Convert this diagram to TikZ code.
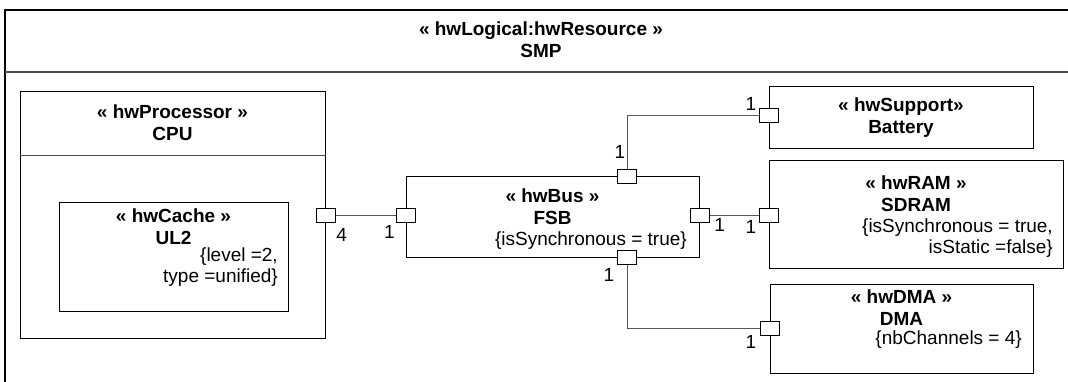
\documentclass[tikz,border=0pt]{standalone}
\usepackage{fontspec}
\setmainfont{Liberation Sans}
\usetikzlibrary{positioning}

\begin{document}
\begin{tikzpicture}[x=1pt,y=-1pt,
  every node/.style={font=\fontsize{19}{22}\selectfont},
  box/.style={draw,line width=1.2pt,inner sep=0pt,anchor=north west},
  port/.style={draw,fill=white,line width=1pt,minimum width=19pt,minimum height=14pt,inner sep=0pt},
  wire/.style={draw=black!65,line width=1pt},
  head/.style={font=\fontsize{19}{22}\selectfont\bfseries,align=center,inner sep=0pt},
  prop/.style={align=right,inner sep=0pt,anchor=east,font=\fontsize{19}{21}\selectfont},
  mult/.style={inner sep=0pt}]
\useasboundingbox (0,0) rectangle (1068,381);
\clip (0,0) rectangle (1068,381);
% enclosing SMP frame
\draw[line width=1.5pt] (5,395) -- (5,10) -- (1080,10);
\draw[black!70,line width=1.5pt] (5,72) -- (1080,72);
\node[head] (smp) at (541,40) {« hwLogical:hwResource »\\SMP};
% processor with its cache
\node[box,minimum width=305pt,minimum height=247pt] (cpu) at (20,91) {};
\draw[black!70,line width=1pt] (cpu.west |- 0,155) -- (cpu.east |- 0,155);
\node[head] (cpuname) at (172.5,123) {« hwProcessor »\\CPU};
\node[box,minimum width=229pt,minimum height=109pt] (ul2) at (59,202) {};
\node[head] (ul2name) at (173.5,227) {« hwCache »\\UL2};
\node[prop] (ul2prop) at (278,267.5) {\{level =2,\\type =unified\}};
% bus
\node[box,minimum width=293pt,minimum height=81pt] (fsb) at (406,176) {};
\node[head] (fsbname) at (552.5,206.5) {« hwBus »\\FSB};
\node[prop] (fsbprop) at (687,241) {\{isSynchronous = true\}};
% right hand side resources
\node[box,minimum width=264pt,minimum height=62pt] (battery) at (769,86) {};
\node[head] (batname) at (901,117.5) {« hwSupport»\\Battery};
\node[box,minimum width=294pt,minimum height=108pt] (sdram) at (769,160) {};
\node[head] (ramname) at (916,194) {« hwRAM »\\SDRAM};
\node[prop] (ramprop) at (1053,238.5) {\{isSynchronous = true,\\isStatic =false\}};
\node[box,minimum width=263pt,minimum height=89pt] (dma) at (770,284) {};
\node[head] (dmaname) at (901.5,307.5) {« hwDMA »\\DMA};
\node[prop] (dmaprop) at (1022,340) {\{nbChannels = 4\}};
% ports
\node[port] (cpuport) at (cpu.east |- 0,215) {};
\node[port] (fsbw) at (fsb.west |- 0,215) {};
\node[port] (fsbe) at (fsb.east |- 0,215) {};
\node[port] (fsbn) at (627,176) {};
\node[port] (fsbs) at (627,257) {};
\node[port] (batport) at (battery.west |- 0,115) {};
\node[port] (ramport) at (sdram.west |- 0,215) {};
\node[port] (dmaport) at (dma.west |- 0,328) {};
% connectors
\draw[wire] (cpuport) -- (fsbw);
\draw[wire] (fsbe) -- (ramport);
\draw[wire] (fsbn) |- (batport);
\draw[wire] (fsbs) |- (dmaport);
% multiplicities
\node[mult,below right=6pt and 0pt of cpuport] (m4) {4};
\node[mult,below left=3pt and 1pt of fsbw] (m1a) {1};
\node[mult,below right=-4pt and 4pt of fsbe] (m1b) {1};
\node[mult,below left=-2pt and 2.5pt of ramport] (m1c) {1};
\node[mult,above=10pt of fsbn,xshift=-7pt] (m1d) {1};
\node[mult,above left=-3pt and 2.5pt of batport] (m1e) {1};
\node[mult,below left=4pt and 2.5pt of fsbs] (m1f) {1};
\node[mult,below left=0pt and 3.5pt of dmaport] (m1g) {1};
\end{tikzpicture}
\end{document}
